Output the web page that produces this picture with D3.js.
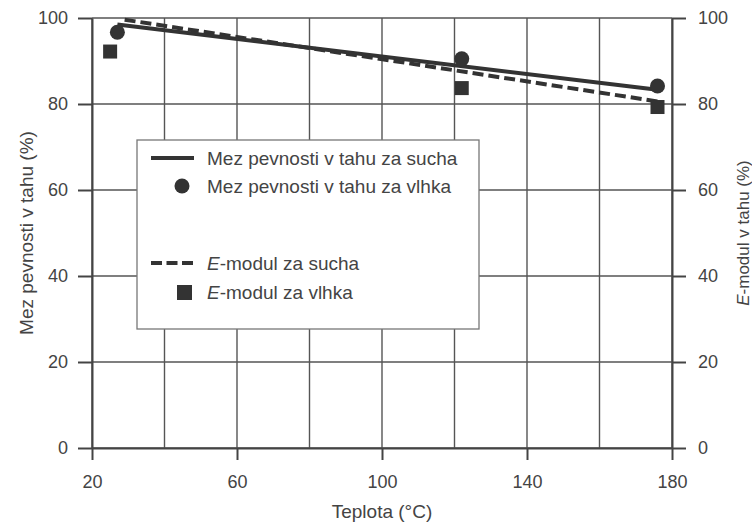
<!DOCTYPE html>
<html><head><meta charset="utf-8">
<script src="https://cdn.jsdelivr.net/npm/d3@7"></script>
<style>
body{margin:0;background:#fff;}
svg{display:block;font-family:"Liberation Sans",Arial,sans-serif;}
</style></head>
<body><svg id="c" width="752" height="527"></svg>
<script>
// Data
const xTicks = [20, 60, 100, 140, 180];
const xGrid = [20, 40, 60, 80, 100, 120, 140, 160, 180];
const yTicks = [0, 20, 40, 60, 80, 100];
const strengthDryT = [27, 176];
const strengthDryV = [98.5, 83.3];
const strengthWetT = [27, 122, 176];
const strengthWetV = [96.7, 90.5, 84.2];
const modulusDryT = [29, 176];
const modulusDryV = [99.6, 80.6];
const modulusWetT = [25, 122, 176];
const modulusWetV = [92.2, 83.7, 79.3];

const svg = d3.select("#c");
const ink = "#333";
const txt = "#444";
const x = d3.scaleLinear().domain([20, 180]).range([92, 672]);
const y = d3.scaleLinear().domain([0, 100]).range([448, 18]);

// grid
svg.append("g").selectAll("line").data(xGrid).join("line")
  .attr("x1", d => x(d)).attr("x2", d => x(d)).attr("y1", y(100)).attr("y2", y(0))
  .attr("stroke", "#555").attr("stroke-width", 1.4);
svg.append("g").selectAll("line").data(yTicks).join("line")
  .attr("x1", x(20)).attr("x2", x(180)).attr("y1", d => y(d)).attr("y2", d => y(d))
  .attr("stroke", "#555").attr("stroke-width", 1.4);

function styleAxis(g) {
  g.select(".domain").attr("stroke", "#444").attr("stroke-width", 2);
  g.selectAll(".tick line").attr("stroke", "#444").attr("stroke-width", 2);
  g.selectAll(".tick text").attr("fill", txt).attr("font-size", 18)
    .attr("font-family", "'Liberation Sans',Arial,sans-serif");
}
svg.append("g").attr("transform", `translate(${x(20)},0)`)
  .call(d3.axisLeft(y).tickValues(yTicks).tickSize(14).tickSizeOuter(0).tickPadding(10))
  .call(styleAxis);
svg.append("g").attr("transform", `translate(${x(180)},0)`)
  .call(d3.axisRight(y).tickValues(yTicks).tickSize(14).tickSizeOuter(0).tickPadding(12))
  .call(styleAxis);
svg.append("g").attr("transform", `translate(0,${y(0)})`)
  .call(d3.axisBottom(x).tickValues(xTicks).tickSize(12).tickSizeOuter(0).tickPadding(15))
  .call(styleAxis);

// axis titles
svg.append("text").attr("transform", `translate(33,${y(50)}) rotate(-90)`)
  .attr("text-anchor", "middle").attr("font-size", 19).attr("fill", txt)
  .text("Mez pevnosti v tahu (%)");
const rt = svg.append("text").attr("transform", `translate(749,${y(50)}) rotate(-90)`)
  .attr("text-anchor", "middle").attr("font-size", 17).attr("fill", txt);
rt.append("tspan").attr("font-style", "italic").text("E");
rt.append("tspan").text("-modul v tahu (%)");
svg.append("text").attr("x", x(100)).attr("y", 518).attr("text-anchor", "middle")
  .attr("font-size", 19).attr("fill", txt).text("Teplota (°C)");

// lines
const line = d3.line().x(d => x(d[0])).y(d => y(d[1]));
svg.append("path").datum(d3.zip(modulusDryT, modulusDryV)).attr("d", line)
  .attr("fill", "none").attr("stroke", ink).attr("stroke-width", 4).attr("stroke-dasharray", "11,5");
svg.append("path").datum(d3.zip(strengthDryT, strengthDryV)).attr("d", line)
  .attr("fill", "none").attr("stroke", ink).attr("stroke-width", 4);

// markers
svg.append("g").selectAll("circle").data(d3.zip(strengthWetT, strengthWetV)).join("circle")
  .attr("cx", d => x(d[0])).attr("cy", d => y(d[1])).attr("r", 7.5).attr("fill", ink);
svg.append("g").selectAll("rect").data(d3.zip(modulusWetT, modulusWetV)).join("rect")
  .attr("x", d => x(d[0]) - 7).attr("y", d => y(d[1]) - 7).attr("width", 14).attr("height", 14).attr("fill", ink);

// legend
const lg = svg.append("g");
lg.append("rect").attr("x", 137).attr("y", 140).attr("width", 342).attr("height", 189)
  .attr("fill", "#fff").attr("stroke", "#777").attr("stroke-width", 1.3);
lg.append("line").attr("x1", 151).attr("x2", 194).attr("y1", 158).attr("y2", 158)
  .attr("stroke", ink).attr("stroke-width", 4);
lg.append("circle").attr("cx", 182).attr("cy", 186).attr("r", 7.5).attr("fill", ink);
lg.append("line").attr("x1", 151).attr("x2", 194).attr("y1", 263).attr("y2", 263)
  .attr("stroke", ink).attr("stroke-width", 4).attr("stroke-dasharray", "11,4.5");
lg.append("rect").attr("x", 177).attr("y", 285).attr("width", 15).attr("height", 15).attr("fill", ink);
const lt = [["", "Mez pevnosti v tahu za sucha", 165], ["", "Mez pevnosti v tahu za vlhka", 193],
            ["E", "-modul za sucha", 270], ["E", "-modul za vlhka", 299]];
lt.forEach(([it, rest, yy]) => {
  const t = lg.append("text").attr("x", 207).attr("y", yy).attr("font-size", 19).attr("fill", txt);
  if (it) t.append("tspan").attr("font-style", "italic").text(it);
  t.append("tspan").text(rest);
});
</script></body></html>
